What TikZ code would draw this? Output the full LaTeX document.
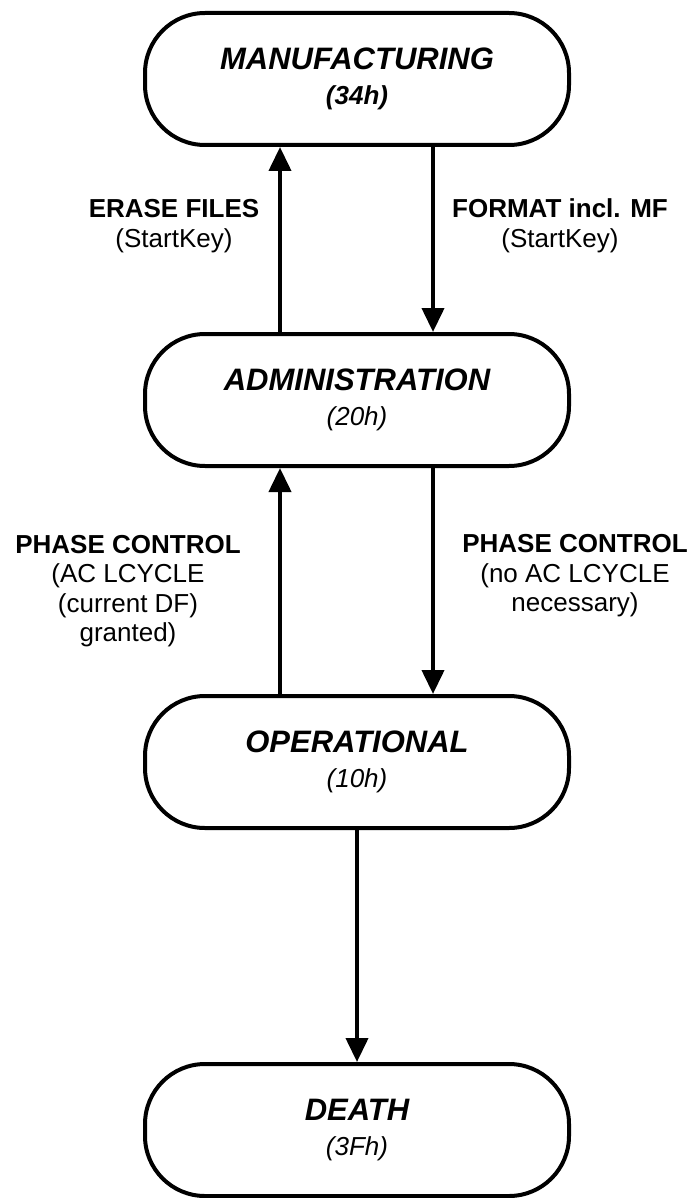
\documentclass[tikz,border=0pt]{standalone}
\usepackage{fontspec}
\setmainfont{Liberation Sans}
\usetikzlibrary{arrows.meta}

\begin{document}
\begin{tikzpicture}
[
    x=1pt, y=-1pt,
    state/.style={draw, line width=4pt, rounded corners=60pt, minimum width=424pt,
        minimum height=132pt, align=center, font=\fontsize{26}{35}\selectfont},
    trans/.style={line width=4pt, -{Triangle[length=24pt,width=22pt]}},
    lbl/.style={align=center, font=\fontsize{26}{29.5}\selectfont},
]
\useasboundingbox (0,0) rectangle (691,1198);

% life cycle states
\node [state] (manuf) at (357,79)
{{\fontsize{31}{31}\selectfont\bfseries\itshape MANUFACTURING}\\ \bfseries\itshape (34h)};
\node [state] (admin) at (357,400)
{{\fontsize{31}{31}\selectfont\bfseries\itshape ADMINISTRATION}\\ \itshape (20h)};
\node [state] (oper) at (357,762)
{{\fontsize{31}{31}\selectfont\bfseries\itshape OPERATIONAL}\\ \itshape (10h)};
\node [state] (death) at (357,1130)
{{\fontsize{31}{31}\selectfont\bfseries\itshape DEATH}\\ \itshape (3Fh)};

% transitions
\draw [trans] ([xshift=-77pt]admin.north) -- ([xshift=-77pt]manuf.south);
\draw [trans] ([xshift=76pt]manuf.south) -- ([xshift=76pt]admin.north);
\draw [trans] ([xshift=-77pt]oper.north) -- ([xshift=-77pt]admin.south);
\draw [trans] ([xshift=76pt]admin.south) -- ([xshift=76pt]oper.north);
\draw [trans] (oper) -- (death);

% transition labels
\node [lbl] (erase) at (174,226) {\textbf{ERASE FILES}\\(StartKey)};
\node [lbl] (format) at (560,226) {\textbf{FORMAT incl. MF}\\(StartKey)};
\node [lbl] (phaseup) at (128,591)
{\textbf{PHASE CONTROL}\\(AC LCYCLE\\(current DF)\\granted)};
\node [lbl] (phasedown) at (575,576)
{\textbf{PHASE CONTROL}\\(no AC LCYCLE\\necessary)};
\end{tikzpicture}
\end{document}
